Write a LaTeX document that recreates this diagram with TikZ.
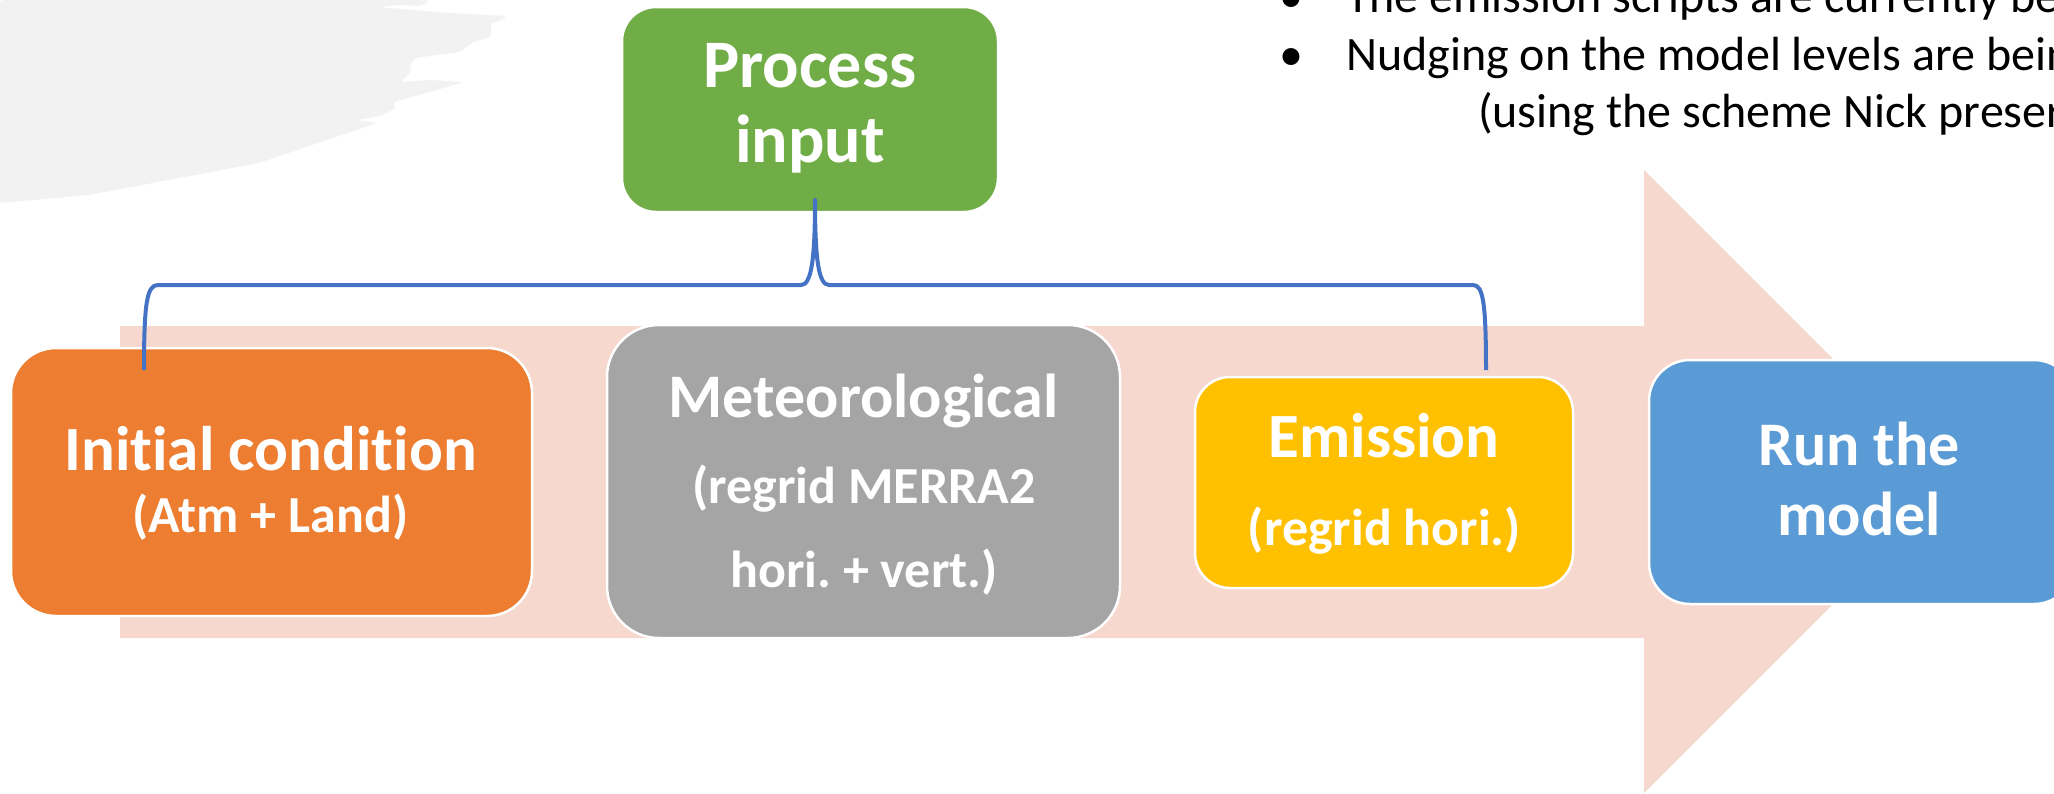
\documentclass[tikz,border=0pt]{standalone}
\usepackage{fontspec}
\setmainfont{Carlito}[Ligatures={NoCommon,NoRare}]
\frenchspacing
\definecolor{brushgray}{HTML}{F2F2F2}
\definecolor{flowpink}{HTML}{F7D8CE}
\definecolor{procgreen}{HTML}{70AD47}
\definecolor{initorange}{HTML}{ED7D31}
\definecolor{metgray}{HTML}{A5A5A5}
\definecolor{emisyellow}{HTML}{FFC000}
\definecolor{runblue}{HTML}{5B9BD5}
\definecolor{bracelink}{HTML}{4472C4}
\begin{document}
\begin{tikzpicture}[x=1pt,y=-1pt,
  stage/.style={rectangle, draw=white, line width=2.5pt, inner sep=0pt},
  headtxt/.style={inner sep=0pt, anchor=base, text=white,
    font=\bfseries\fontsize{63}{63}\selectfont},
  subtxt/.style={inner sep=0pt, anchor=base, text=white,
    font=\bfseries\fontsize{52}{52}\selectfont},
  notetxt/.style={inner sep=0pt, anchor=base west, text=black,
    font=\fontsize{48}{48}\selectfont},
  bulletmark/.style={inner sep=0pt, anchor=base, text=black,
    font=\fontsize{48}{48}\selectfont},
  bracepath/.style={draw=bracelink, line width=4pt, line join=round}
]
\useasboundingbox (0,0) rectangle (2054,793);
\clip (0,0) rectangle (2054,793);

% light brush stroke in the upper left corner
\fill[brushgray, rounded corners=3pt]
  (0,0) -- (429,0) -- (426,4) -- (420,6) -- (400,5) -- (379,7)
  -- (450,13) -- (507,16) -- (500,21) -- (491,23) -- (491,37)
  -- (473,42) -- (460,52) -- (415,58) -- (410,65) -- (411,73)
  -- (400,82) -- (430,80) -- (464,82) -- (430,92) -- (393,102)
  -- (396,108) -- (380,116) -- (357,120) -- (377,123)
  -- (259,163) -- (89,195) -- (0,203) -- cycle;

% broad process arrow in the background
\fill[flowpink] (120,326) -- (1644,326) -- (1644,170) -- (1955.5,481.5)
  -- (1644,793) -- (1644,638) -- (120,638) -- cycle;

% stages
\node[stage, fill=procgreen, rounded corners=34pt,
  minimum width=376pt, minimum height=205pt] (proc) at (810,109.5) {};
\node[stage, fill=initorange, rounded corners=45pt,
  minimum width=521pt, minimum height=268pt] (init) at (271.5,482) {};
\node[stage, fill=metgray, rounded corners=52pt,
  minimum width=513pt, minimum height=313pt] (met) at (863.5,481.5) {};
\node[stage, fill=emisyellow, rounded corners=35pt,
  minimum width=378pt, minimum height=211pt] (emis) at (1384,482.5) {};
\node[stage, fill=runblue, rounded corners=41pt,
  minimum width=426pt, minimum height=244pt] (run) at (1862,482) {};

% brace joining the input step to the three preparation stages
\coordinate (tip) at (815,200);
\coordinate (bl) at (144,370);
\coordinate (br) at (1486,370);
\draw[bracepath] (bl) .. controls (144,302) and (147,285) .. (158,285)
  -- (801,285) .. controls (811,285) and (815,262) .. (tip)
  .. controls (815,262) and (819,285) .. (829,285)
  -- (1473,285) .. controls (1483,285) and (1486,302) .. (br);

% stage texts
\node[headtxt, font=\bfseries\fontsize{68}{68}\selectfont] (proc1) at (810,87) {Process};
\node[headtxt, font=\bfseries\fontsize{68}{68}\selectfont] (proc2) at (810,162) {input};

\node[headtxt] (init1) at (270.5,470) {Initial condition};
\node[subtxt] (init2) at (270.5,532) {(Atm + Land)};

\node[headtxt, font=\bfseries\fontsize{62}{62}\selectfont] (met1) at (863.5,417) {Meteorological};
\node[subtxt] (met2) at (864,503) {(regrid MERRA2};
\node[subtxt] (met3) at (864,587) {hori. + vert.)};

\node[headtxt] (emis1) at (1384,457) {Emission};
\node[subtxt] (emis2) at (1384.5,545) {(regrid hori.)};

\node[headtxt, font=\bfseries\fontsize{62}{62}\selectfont] (run1) at (1859,465) {Run the};
\node[headtxt, font=\bfseries\fontsize{62}{62}\selectfont] (run2) at (1859,535) {model};

% notes in the upper right corner
\node[bulletmark] (b1) at (1291,12) {•};
\node[notetxt] (n1) at (1346,12) {The emission scripts are currently be};
\node[bulletmark] (b2) at (1291,70) {•};
\node[notetxt] (n2) at (1346,70) {Nudging on the model levels are bein};
\node[notetxt] (n3) at (1478,127) {(using the scheme Nick preser};
\end{tikzpicture}
\end{document}
